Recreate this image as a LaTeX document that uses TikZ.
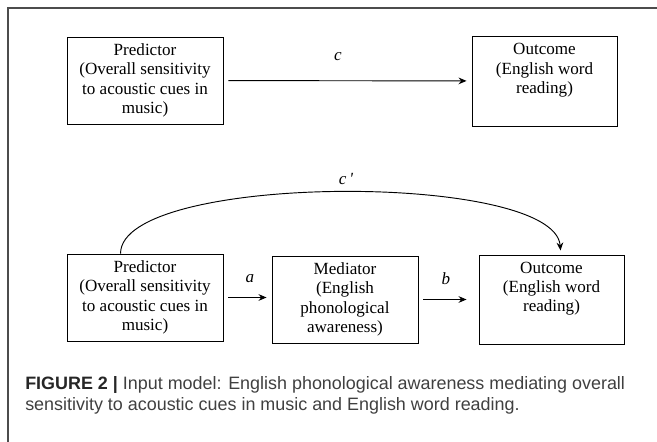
\documentclass[tikz,border=0pt]{standalone}
\usepackage{fontspec}
\setmainfont{Liberation Serif}
\newfontfamily\boxfont{Liberation Serif}
\newfontfamily\capfont{Liberation Sans}
\usetikzlibrary{arrows.meta}

\begin{document}
\begin{tikzpicture}[x=0.75pt,y=-0.75pt,>={Stealth[length=6pt,width=5pt,inset=2pt]}]
\useasboundingbox (0,0) rectangle (657,442);
\draw[line width=0.8pt,black!70] (8,442) -- (8,8) -- (657,8);

\begin{scope}[every node/.style={draw,line width=0.7pt,align=center,inner sep=0pt,font=\boxfont\fontsize{12.8}{14.5}\selectfont}]
\node[minimum width=117pt,minimum height=65.25pt] (p1) at (145,80.5) {Predictor\\(Overall sensitivity\\to acoustic cues in\\music)};
\node[minimum width=108.75pt,minimum height=67.5pt] (o1) at (544.5,81) {Outcome\\(English word\\reading)\\\strut};

\node[minimum width=117pt,minimum height=65.25pt] (p2) at (145,297.5) {Predictor\\(Overall sensitivity\\to acoustic cues in\\music)};
\node[minimum width=109.5pt,minimum height=65.25pt] (m2) at (345,299.5) {Mediator\\(English\\phonological\\awareness)};
\node[minimum width=108.75pt,minimum height=66.75pt] (o2) at (551.5,299.5) {Outcome\\(English word\\reading)\\\strut};
\end{scope}

\begin{scope}[every node/.style={font=\boxfont\fontsize{12.8}{14.5}\selectfont\itshape,inner sep=0pt}]
\node (c) at (338,57) {c};
\node (a) at (250,279) {a};
\node (b) at (446,279) {b};
\node (cp) at (346,179) {c\,'};
\end{scope}

\draw[->,line width=0.7pt,shorten <=3.75pt,shorten >=3.75pt] (p1) -- (o1);
\draw[->,line width=0.7pt,shorten <=3.75pt,shorten >=3.75pt] (p2.east) -- (p2.east -| m2.west);
\draw[->,line width=0.7pt,shorten <=3.75pt,shorten >=9pt] (m2.east) -- (m2.east -| o2.west);
\draw[->,line width=0.7pt] ([xshift=40.5pt]p2.north west) .. controls +(0,-81) and +(-6,-79) .. ([xshift=61.5pt,yshift=3pt]o2.north west);

\node[anchor=base west,inner sep=0pt,font=\capfont\fontsize{13.45}{15}\selectfont,text=black!75] (cap1) at (25,389) {\textcolor{black!85}{\textbf{FIGURE 2 |}} Input model: English phonological awareness mediating overall};
\node[anchor=base west,inner sep=0pt,font=\capfont\fontsize{13.45}{15}\selectfont,text=black!75] (cap2) at (25,410) {sensitivity to acoustic cues in music and English word reading.};
\end{tikzpicture}
\end{document}
